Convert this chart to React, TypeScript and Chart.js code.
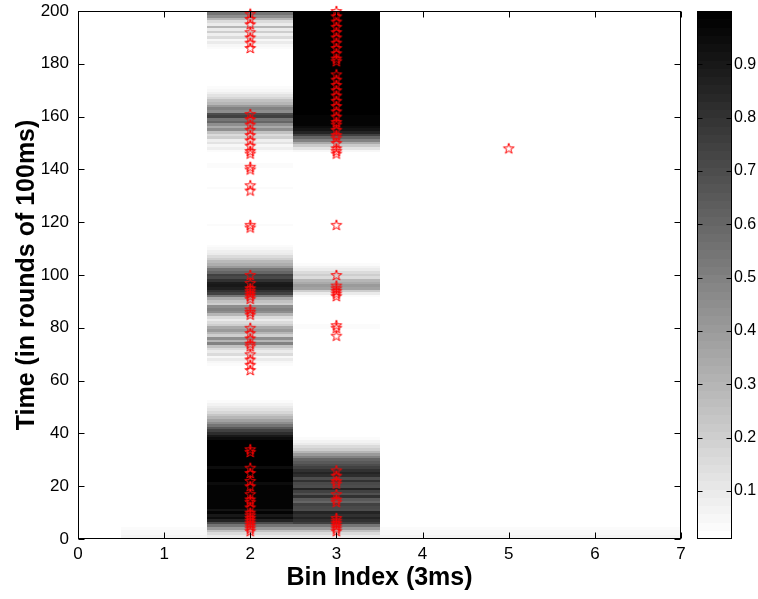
import React, { useEffect, useRef } from "react";
import { Chart, registerables } from "chart.js";

Chart.register(...registerables);

type Run = [number, number, number];

// ---- data ----
const bins = [1, 2, 3, 4, 5, 6, 7];
const xTicks = [0, 1, 2, 3, 4, 5, 6, 7];
const yTicks = [0, 20, 40, 60, 80, 100, 120, 140, 160, 180, 200];
const colorbarTicks = [0.1, 0.2, 0.3, 0.4, 0.5, 0.6, 0.7, 0.8, 0.9];
const firstRow = 0;
const lastRow = 200;
const quietLevel = 0.01;
const peakLevel = 1.0;

// [fromRow, toRow, level]
const edgeBinRuns: Run[] = [
  [0, 1, 0.07], [2, 3, 0.05], [4, 4, 0.03],
];

const bin2Runs: Run[] = [
  [0, 1, 0.1], [2, 2, 0.15], [3, 3, 0.25], [4, 4, 0.4], [5, 5, 0.55], [6, 6, 0.7], [7, 7, 0.85],
  [8, 8, 0.95], [9, 9, 0.9], [10, 10, 0.97], [11, 11, 0.92], [12, 12, 0.97], [13, 20, 0.98],
  [21, 21, 0.94], [22, 26, 0.99], [27, 27, 0.95], [28, 37, 1.0],
  [38, 38, 0.95], [39, 39, 0.9], [40, 40, 0.82], [41, 41, 0.75], [42, 42, 0.65], [43, 43, 0.55],
  [44, 44, 0.45], [45, 45, 0.38], [46, 46, 0.3], [47, 47, 0.24], [48, 48, 0.18], [49, 49, 0.13],
  [50, 50, 0.1], [51, 51, 0.07], [52, 52, 0.04], [53, 53, 0.02],
  [65, 65, 0.02], [66, 66, 0.03], [67, 67, 0.05], [68, 68, 0.1], [69, 69, 0.05], [70, 70, 0.15],
  [71, 71, 0.1], [72, 72, 0.15], [73, 73, 0.25], [74, 74, 0.5], [75, 75, 0.3], [76, 76, 0.45],
  [77, 77, 0.2], [78, 78, 0.3], [79, 79, 0.4], [80, 80, 0.35], [81, 81, 0.2], [82, 82, 0.15],
  [83, 83, 0.1], [84, 84, 0.15], [85, 85, 0.3], [86, 86, 0.45], [87, 87, 0.5], [88, 88, 0.45],
  [89, 89, 0.2], [90, 90, 0.25], [91, 91, 0.35], [92, 92, 0.55], [93, 93, 0.75], [94, 94, 0.8],
  [95, 95, 0.87], [96, 96, 0.9], [97, 97, 0.88], [98, 98, 0.8], [99, 99, 0.72], [100, 100, 0.75],
  [101, 101, 0.6], [102, 102, 0.55], [103, 103, 0.4], [104, 104, 0.32], [105, 105, 0.28],
  [106, 106, 0.2], [107, 107, 0.15], [108, 108, 0.1], [109, 109, 0.08], [110, 110, 0.05],
  [111, 111, 0.03],
  [119, 119, 0.03], [133, 133, 0.03], [141, 142, 0.03],
  [146, 146, 0.02], [147, 147, 0.03], [148, 148, 0.08], [149, 149, 0.05], [150, 150, 0.12],
  [151, 151, 0.08], [152, 152, 0.2], [153, 153, 0.15], [154, 154, 0.25], [155, 155, 0.45],
  [156, 156, 0.35], [157, 157, 0.45], [158, 158, 0.6], [159, 159, 0.55], [160, 160, 0.75],
  [161, 161, 0.7], [162, 162, 0.45], [163, 163, 0.5], [164, 164, 0.4], [165, 165, 0.3],
  [166, 166, 0.25], [167, 167, 0.18], [168, 168, 0.12], [169, 169, 0.08], [170, 170, 0.05],
  [171, 171, 0.03], [172, 172, 0.02],
  [186, 186, 0.03], [187, 187, 0.05], [188, 188, 0.1], [189, 189, 0.05], [190, 190, 0.15],
  [191, 191, 0.08], [192, 192, 0.2], [193, 193, 0.1], [194, 194, 0.3], [195, 195, 0.1],
  [196, 196, 0.15], [197, 197, 0.3], [198, 198, 0.45], [199, 199, 0.55], [200, 200, 0.6],
];

const bin3Runs: Run[] = [
  [0, 1, 0.1], [2, 2, 0.15], [3, 3, 0.25], [4, 4, 0.4], [5, 5, 0.55], [6, 6, 0.75], [7, 7, 0.8],
  [8, 8, 0.85], [9, 9, 0.8], [10, 10, 0.85], [11, 11, 0.7], [12, 12, 0.72], [13, 13, 0.75],
  [14, 14, 0.6], [15, 15, 0.65], [16, 16, 0.8], [17, 17, 0.68], [18, 18, 0.75], [19, 19, 0.85],
  [20, 20, 0.7], [21, 21, 0.72], [22, 22, 0.8], [23, 23, 0.7], [24, 24, 0.82], [25, 25, 0.85],
  [26, 26, 0.8], [27, 27, 0.75], [28, 28, 0.7], [29, 29, 0.65], [30, 30, 0.6], [31, 31, 0.5],
  [32, 32, 0.4], [33, 33, 0.3], [34, 34, 0.2], [35, 35, 0.15], [36, 36, 0.1], [37, 37, 0.07],
  [38, 38, 0.04], [39, 39, 0.02],
  [80, 81, 0.03],
  [92, 92, 0.04], [93, 93, 0.1], [94, 94, 0.2], [95, 95, 0.38], [96, 96, 0.4], [97, 97, 0.35],
  [98, 98, 0.3], [99, 99, 0.15], [100, 100, 0.2], [101, 101, 0.15], [102, 102, 0.1],
  [103, 103, 0.06], [104, 104, 0.04], [105, 105, 0.02],
  [146, 146, 0.02], [147, 147, 0.05], [148, 148, 0.12], [149, 149, 0.22], [150, 150, 0.35],
  [151, 151, 0.5], [152, 152, 0.6], [153, 153, 0.75], [154, 154, 0.85], [155, 155, 0.92],
  [156, 156, 0.95], [157, 160, 0.97], [161, 200, 1.0],
];

const binRuns: Record<number, Run[]> = {
  1: edgeBinRuns, 2: bin2Runs, 3: bin3Runs, 4: edgeBinRuns, 5: edgeBinRuns, 6: edgeBinRuns, 7: edgeBinRuns,
};

const starsBin2 = [
  199, 197, 195, 192, 190, 188, 186,
  161, 159, 157, 155, 153, 151, 149, 147, 146, 141, 140, 134, 132,
  119, 118, 100, 97, 95, 94, 93, 92, 91, 87, 86, 85, 80, 78, 76, 74, 73, 70, 68, 66, 64,
  34, 33, 27, 25, 22, 20, 17, 15, 14, 12, 10, 9, 8, 7, 6, 5, 4, 3,
];
const starsBin3 = [
  200, 198, 196, 194, 192, 190, 188, 186, 184, 182, 181,
  176, 174, 172, 170, 168, 166, 164, 162, 160, 158, 157, 155, 153, 152, 150, 148, 147, 146,
  119, 100, 96, 95, 94, 93, 92, 81, 80, 77,
  26, 24, 22, 21, 17, 15, 14, 8, 7, 6, 5, 4, 3,
];
const starsBin5 = [148];

// ---- helpers ----
const LEVELS = 64;
function columnValues(bin: number): number[] {
  const vals: number[] = [];
  for (let r = firstRow; r <= lastRow; r++) vals.push(quietLevel);
  for (const [a, b, v] of binRuns[bin] || []) {
    for (let r = a; r <= b; r++) vals[r - firstRow] = v;
  }
  return vals;
}
function grayFor(v: number): string {
  const t = (v - quietLevel) / (peakLevel - quietLevel);
  const idx = Math.max(0, Math.min(LEVELS - 1, Math.floor(t * LEVELS)));
  const g = Math.round(255 * (1 - idx / (LEVELS - 1)));
  return `rgb(${g},${g},${g})`;
}
function makePentagram(): HTMLCanvasElement {
  const c = document.createElement("canvas");
  c.width = 14;
  c.height = 14;
  const ctx = c.getContext("2d")!;
  const R = 5.6;
  const r = R * 0.382;
  ctx.beginPath();
  for (let i = 0; i < 10; i++) {
    const ang = -Math.PI / 2 + (i * Math.PI) / 5;
    const rad = i % 2 === 0 ? R : r;
    const px = 7 + rad * Math.cos(ang);
    const py = 7.5 + rad * Math.sin(ang);
    if (i === 0) ctx.moveTo(px, py);
    else ctx.lineTo(px, py);
  }
  ctx.closePath();
  ctx.strokeStyle = "#ff0000";
  ctx.lineWidth = 1;
  ctx.stroke();
  return c;
}

const FONT = "'Liberation Sans', Arial, Helvetica, sans-serif";
const CB_AXIS_WIDTH = 77;
const CB_BAR_OFFSET = 16; // gap between plot box and colour bar
const CB_BAR_WIDTH = 35;

const heatPlugin = {
  id: "heat",
  beforeDatasetsDraw(chart: any) {
    const { ctx, chartArea, scales } = chart;
    const x = scales.x;
    const y = scales.y;
    ctx.save();
    ctx.beginPath();
    ctx.rect(chartArea.left, chartArea.top, chartArea.right - chartArea.left, chartArea.bottom - chartArea.top);
    ctx.clip();
    for (const b of bins) {
      const vals = columnValues(b);
      const x0 = Math.round(x.getPixelForValue(b - 0.5));
      const x1 = Math.round(x.getPixelForValue(b + 0.5));
      vals.forEach((v, i) => {
        const r = firstRow + i;
        const top = Math.round(y.getPixelForValue(r + 0.5));
        const bot = Math.round(y.getPixelForValue(r - 0.5));
        ctx.fillStyle = grayFor(v);
        ctx.fillRect(x0, top, x1 - x0, bot - top);
      });
    }
    ctx.restore();
  },
};

const framePlugin = {
  id: "frame",
  afterDatasetsDraw(chart: any) {
    const { ctx, chartArea, scales } = chart;
    const { left, right, top, bottom } = chartArea;
    const L = Math.round(left) + 0.5;
    const R = Math.round(right) - 0.5;
    const T = Math.round(top) + 0.5;
    const B = Math.round(bottom) - 0.5;
    ctx.save();
    ctx.strokeStyle = "#000";
    ctx.lineWidth = 1;
    ctx.strokeRect(L, T, R - L, B - T);
    const tl = 6;
    ctx.beginPath();
    for (const v of xTicks) {
      const px = Math.round(scales.x.getPixelForValue(v)) + 0.5;
      ctx.moveTo(px, B); ctx.lineTo(px, B - tl);
      ctx.moveTo(px, T); ctx.lineTo(px, T + tl);
    }
    for (const v of yTicks) {
      const py = Math.round(scales.y.getPixelForValue(v)) + 0.5;
      ctx.moveTo(L, py); ctx.lineTo(L + tl, py);
      ctx.moveTo(R, py); ctx.lineTo(R - tl, py);
    }
    ctx.stroke();

    // colour bar, positioned by its own scale
    const cb = scales.cb;
    const bx0 = Math.round(cb.left) + CB_BAR_OFFSET;
    const bx1 = bx0 + CB_BAR_WIDTH;
    const span = (peakLevel - quietLevel) / LEVELS;
    for (let k = 0; k < LEVELS; k++) {
      const lo = quietLevel + k * span;
      const hi = lo + span;
      const yTop = Math.round(cb.getPixelForValue(hi));
      const yBot = Math.round(cb.getPixelForValue(lo));
      ctx.fillStyle = grayFor(lo + span / 2);
      ctx.fillRect(bx0, yTop, bx1 - bx0, yBot - yTop);
    }
    const cT = Math.round(cb.top) + 0.5;
    const cB = Math.round(cb.bottom) - 0.5;
    ctx.strokeRect(bx0 + 0.5, cT, bx1 - bx0 - 1, cB - cT);
    ctx.beginPath();
    for (const v of colorbarTicks) {
      const py = Math.round(cb.getPixelForValue(v)) + 0.5;
      ctx.moveTo(bx0 + 0.5, py); ctx.lineTo(bx0 + 5.5, py);
      ctx.moveTo(bx1 - 0.5, py); ctx.lineTo(bx1 - 5.5, py);
    }
    ctx.stroke();
    ctx.restore();
  },
};

const noVPad = (s: any) => { s.paddingTop = 0; s.paddingBottom = 0; };
const noHPad = (s: any) => { s.paddingLeft = 0; s.paddingRight = 0; };

export default function App() {
  const mainRef = useRef<HTMLCanvasElement>(null);

  useEffect(() => {
    const star = makePentagram();
    const mkStars = (bin: number, ys: number[]) => ({
      data: ys.map((v) => ({ x: bin, y: v })),
      pointStyle: star as any,
      pointRadius: 5,
      clip: false as any,
      showLine: false,
    });
    const main = new Chart(mainRef.current!, {
      type: "scatter",
      data: {
        datasets: [mkStars(2, starsBin2), mkStars(3, starsBin3), mkStars(5, starsBin5)],
      },
      options: {
        responsive: false,
        animation: false,
        events: [],
        layout: { padding: { top: 11, right: 0, left: 0, bottom: 0 } },
        plugins: { legend: { display: false }, tooltip: { enabled: false } },
        scales: {
          x: {
            type: "linear",
            min: 0,
            max: 7,
            afterBuildTicks: (s: any) => { s.ticks = xTicks.map((v) => ({ value: v })); },
            afterFit: (s: any) => { s.height = 60; noHPad(s); },
            grid: { display: false, drawTicks: false },
            border: { display: false },
            ticks: { color: "#000", font: { family: FONT, size: 17 }, padding: 5, maxRotation: 0 },
            title: {
              display: true,
              text: "Bin Index (3ms)",
              color: "#000",
              font: { family: FONT, size: 25, weight: "bold" },
              padding: { top: 0, bottom: 6 },
            },
          },
          y: {
            type: "linear",
            min: 0,
            max: 200,
            afterBuildTicks: (s: any) => { s.ticks = yTicks.map((v) => ({ value: v })); },
            afterFit: (s: any) => { s.width = 78; noVPad(s); },
            grid: { display: false, drawTicks: false },
            border: { display: false },
            ticks: { color: "#000", font: { family: FONT, size: 17 }, padding: 9 },
            title: {
              display: true,
              text: "Time (in rounds of 100ms)",
              color: "#000",
              font: { family: FONT, size: 25, weight: "bold" },
              padding: { top: 12, bottom: 0 },
            },
          },
          cb: {
            type: "linear",
            position: "right",
            min: quietLevel,
            max: peakLevel,
            afterBuildTicks: (s: any) => { s.ticks = colorbarTicks.map((v) => ({ value: v })); },
            afterFit: (s: any) => { s.width = CB_AXIS_WIDTH; noVPad(s); },
            grid: { display: false, drawTicks: false },
            border: { display: false },
            ticks: {
              color: "#000",
              font: { family: FONT, size: 16 },
              padding: CB_BAR_OFFSET + CB_BAR_WIDTH + 2,
              callback: (v: any) => Number(v).toFixed(1),
            },
          },
        },
      },
      plugins: [heatPlugin, framePlugin],
    });
    return () => {
      main.destroy();
    };
  }, []);

  return (
    <div style={{ position: "absolute", left: 0, top: 0, width: 758, height: 599, background: "#fff" }}>
      <canvas ref={mainRef} width={758} height={599} style={{ position: "absolute", left: 0, top: 0, width: 758, height: 599 }} />
    </div>
  );
}
